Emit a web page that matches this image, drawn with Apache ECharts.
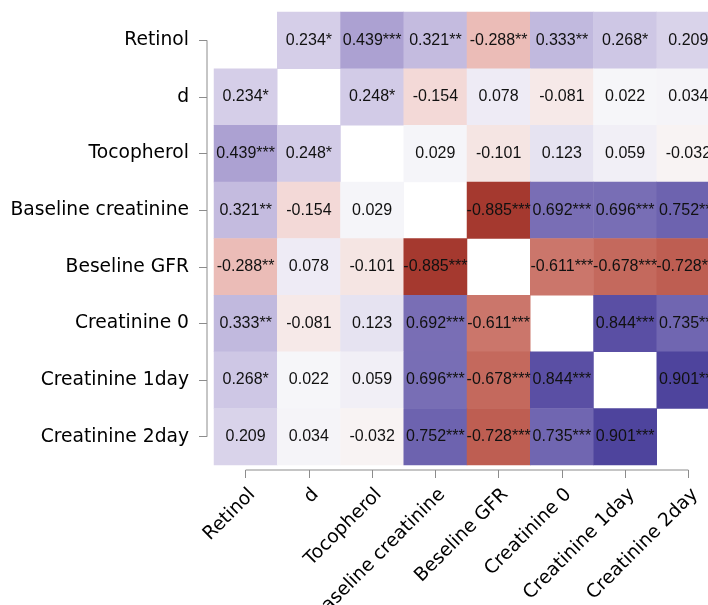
<!DOCTYPE html>
<html><head><meta charset="utf-8">
<script src="https://cdn.jsdelivr.net/npm/echarts@6/dist/echarts.min.js"></script>
<style>html,body{margin:0;padding:0;background:#fff}#c{width:708px;height:605px}</style>
</head><body><div id="c"></div>
<script>
const variables = ['Retinol','d','Tocopherol','Baseline creatinine','Beseline GFR','Creatinine 0','Creatinine 1day','Creatinine 2day'];
const correlations = [
  [null, 0.234, 0.439, 0.321, -0.288, 0.333, 0.268, 0.209],
  [0.234, null, 0.248, -0.154, 0.078, -0.081, 0.022, 0.034],
  [0.439, 0.248, null, 0.029, -0.101, 0.123, 0.059, -0.032],
  [0.321, -0.154, 0.029, null, -0.885, 0.692, 0.696, 0.752],
  [-0.288, 0.078, -0.101, -0.885, null, -0.611, -0.678, -0.728],
  [0.333, -0.081, 0.123, 0.692, -0.611, null, 0.844, 0.735],
  [0.268, 0.022, 0.059, 0.696, -0.678, 0.844, null, 0.901],
  [0.209, 0.034, -0.032, 0.752, -0.728, 0.735, 0.901, null]
];
const significance = [
  ['', '*', '***', '**', '**', '**', '*', ''],
  ['*', '', '*', '', '', '', '', ''],
  ['***', '*', '', '', '', '', '', ''],
  ['**', '', '', '', '***', '***', '***', '***'],
  ['**', '', '', '***', '', '***', '***', '***'],
  ['**', '', '', '***', '***', '', '***', '***'],
  ['*', '', '', '***', '***', '***', '', '***'],
  ['', '', '', '***', '***', '***', '***', '']
];
const colorStops = ['#911c16','#bc5a4d','#d78d83','#eec5c0','#fafafb','#d2cbe7','#a094cb','#6d63af','#3a2f92'];

const cells = [];
for (let r = 0; r < variables.length; r++) {
  for (let c = 0; c < variables.length; c++) {
    if (correlations[r][c] === null) continue;
    cells.push([c, r, correlations[r][c], significance[r][c]]);
  }
}

const chart = echarts.init(document.getElementById('c'), null, {renderer: 'canvas'});
const axisColor = '#8c8c8c';
chart.setOption({
  animation: false,
  backgroundColor: '#ffffff',
  grid: {left: 214, top: 12, width: 506, height: 453, containLabel: false, outerBoundsMode: 'none'},
  xAxis: {
    type: 'category', data: variables, offset: 5,
    axisLine: {show: false},
    axisTick: {show: true, alignWithLabel: true, length: 8, lineStyle: {color: axisColor, width: 1}},
    axisLabel: {rotate: 45, interval: 0, margin: 15, verticalAlign: 'top', color: '#000', fontSize: 18.7, fontFamily: 'DejaVu Sans', hideOverlap: false},
    splitLine: {show: false}, splitArea: {show: false}
  },
  yAxis: {
    type: 'category', data: variables, inverse: true, offset: 7,
    axisLine: {show: false},
    axisTick: {show: true, alignWithLabel: true, length: 8, lineStyle: {color: axisColor, width: 1}},
    axisLabel: {interval: 0, margin: 18, color: '#000', fontSize: 18.7, fontFamily: 'DejaVu Sans', hideOverlap: false},
    splitLine: {show: false}, splitArea: {show: false}
  },
  visualMap: {
    show: false, type: 'continuous', min: -1, max: 1, dimension: 2, seriesIndex: 0,
    inRange: {color: colorStops}
  },
  series: [
    {
      type: 'heatmap', data: cells,
      label: {
        show: true, color: '#111', fontSize: 16, fontFamily: 'Liberation Sans',
        formatter: p => p.value[2].toFixed(3) + p.value[3]
      },
      labelLayout: {hideOverlap: false},
      itemStyle: {borderWidth: 0},
      emphasis: {disabled: true}
    },
    {
      type: 'custom', data: [[0, 0]], clip: false, silent: true,
      encode: {x: 0, y: 1},
      renderItem: function (params, api) {
        const p0 = api.coord([0, 0]);
        const p7 = api.coord([7, 7]);
        const sz = api.size([1, 1]);
        const left = p0[0] - sz[0] / 2 - 7;
        const bottom = p7[1] + sz[1] / 2 + 5;
        return {type: 'group', children: [
          {type: 'line', shape: {x1: left, y1: p0[1], x2: left, y2: p7[1]}, style: {stroke: axisColor, lineWidth: 1}},
          {type: 'line', shape: {x1: p0[0], y1: bottom, x2: p7[0], y2: bottom}, style: {stroke: axisColor, lineWidth: 1}}
        ]};
      }
    }
  ]
});
</script>
</body></html>
